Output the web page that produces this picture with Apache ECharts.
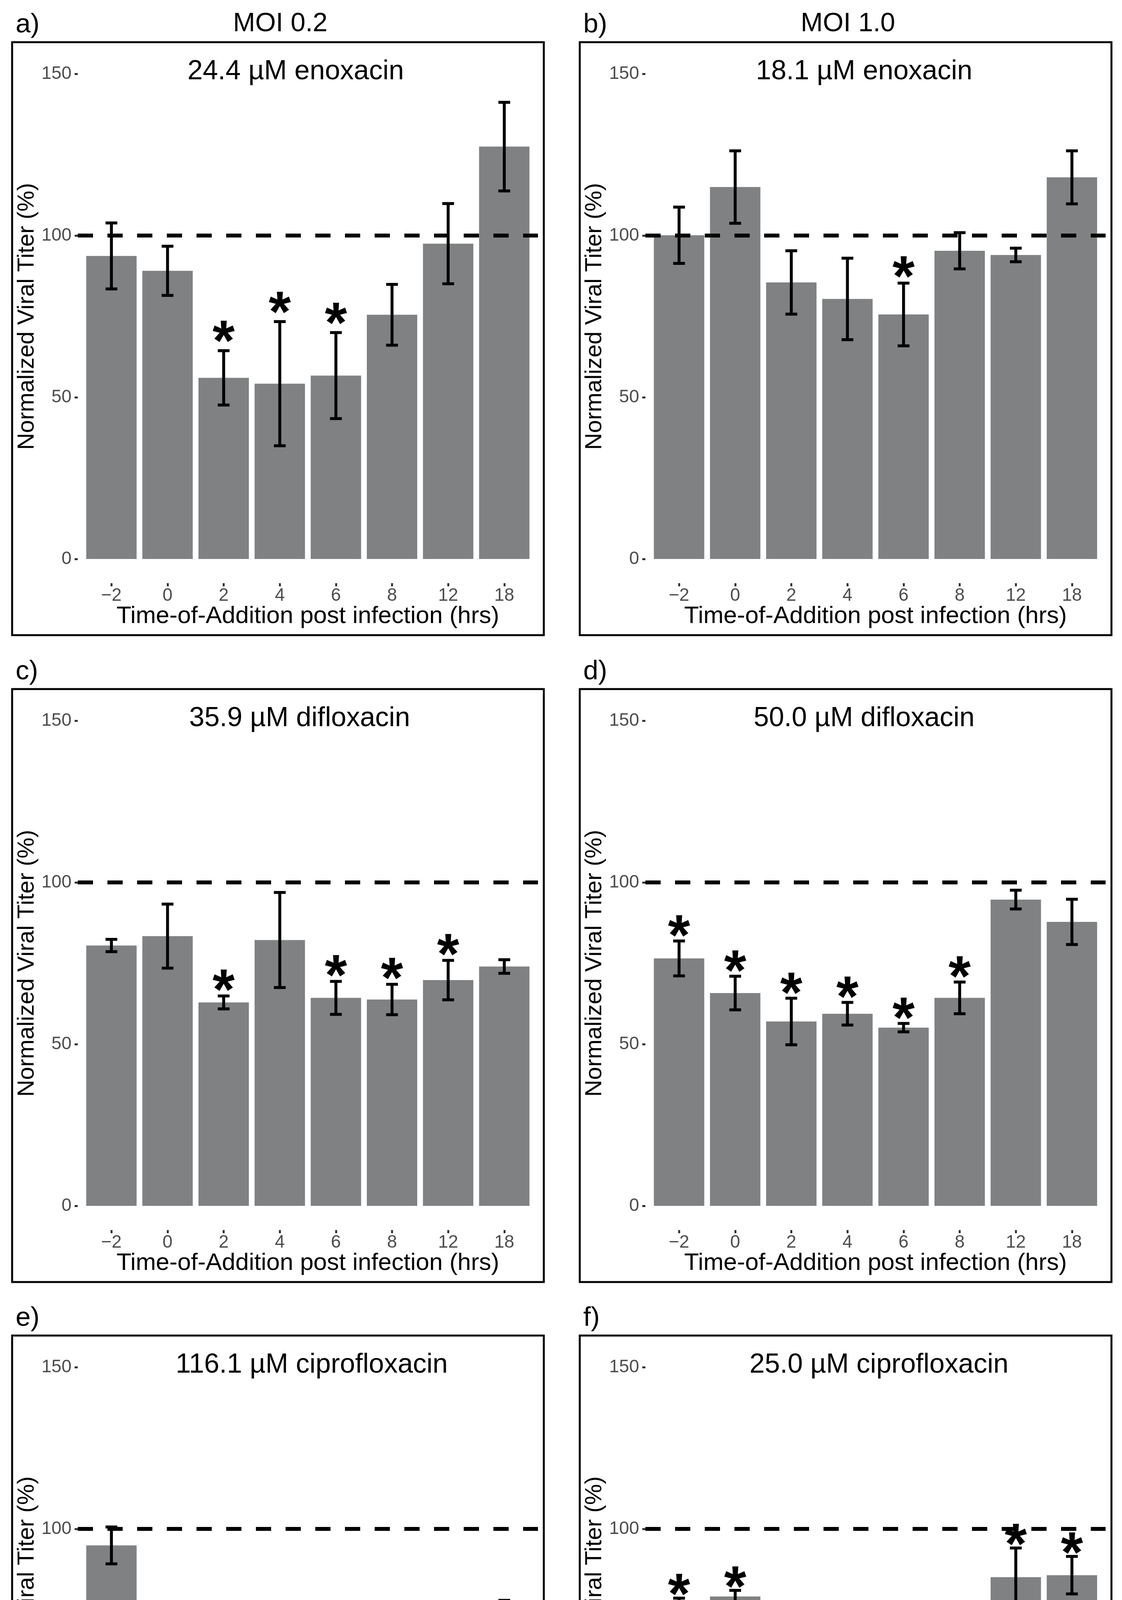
<!DOCTYPE html>
<html>
<head>
<meta charset="utf-8">
<script src="https://cdn.jsdelivr.net/npm/echarts@6/dist/echarts.min.js"></script>
<style>
html,body{margin:0;padding:0;background:#ffffff;}
#chart{width:2872px;height:4974px;}
</style>
</head>
<body>
<div id="chart"></div>
<script>
// ---------------- data ----------------
const categories = ['\u22122', '0', '2', '4', '6', '8', '12', '18'];
const yTicks = [0, 50, 100, 150];
const xTickIndex = [0, 1, 2, 3, 4, 5, 6, 7];
const referenceLevel = 100;
const moiLabels = ['MOI 0.2', 'MOI 1.0'];
const panelLetters = ['a)', 'b)', 'c)', 'd)', 'e)', 'f)'];
const panelTitles = ['24.4 \u00b5M enoxacin', '18.1 \u00b5M enoxacin', '35.9 \u00b5M difloxacin',
                     '50.0 \u00b5M difloxacin', '116.1 \u00b5M ciprofloxacin', '25.0 \u00b5M ciprofloxacin'];
const xTitle = 'Time-of-Addition post infection (hrs)';
const yTitle = 'Normalized Viral Titer (%)';

// a) 24.4 uM enoxacin, MOI 0.2
const meanA = [93.7, 89.1, 56.0, 54.2, 56.7, 75.5, 97.5, 127.5];
const errA  = [10.2, 7.6, 8.4, 19.2, 13.3, 9.4, 12.4, 13.7];
const sigA  = [0, 0, 1, 1, 1, 0, 0, 0];
// b) 18.1 uM enoxacin, MOI 1.0
const meanB = [100.1, 115.0, 85.5, 80.4, 75.6, 95.3, 94.0, 118.0];
const errB  = [8.7, 11.2, 9.8, 12.6, 9.7, 5.6, 2.1, 8.2];
const sigB  = [0, 0, 0, 0, 1, 0, 0, 0];
// c) 35.9 uM difloxacin, MOI 0.2
const meanC = [80.5, 83.4, 62.9, 82.2, 64.3, 63.8, 69.8, 74.0];
const errC  = [1.9, 9.9, 2.0, 14.7, 5.1, 4.7, 6.1, 2.1];
const sigC  = [0, 0, 1, 0, 1, 1, 1, 0];
// d) 50.0 uM difloxacin, MOI 1.0
const meanD = [76.5, 65.8, 57.0, 59.4, 55.1, 64.3, 94.7, 87.8];
const errD  = [5.4, 5.2, 7.2, 3.5, 1.3, 4.9, 2.9, 7.0];
const sigD  = [1, 1, 1, 1, 1, 1, 0, 0];
// e) 116.1 uM ciprofloxacin, MOI 0.2
const meanE = [94.9, 51.8, 2.2, 2.2, 2.5, 2.5, 31.7, 67.4];
const errE  = [5.7, 25.2, 0.5, 0.4, 0.3, 0.8, 10.4, 10.5];
const sigE  = [0, 0, 1, 1, 1, 1, 0, 0];
// f) 25.0 uM ciprofloxacin, MOI 1.0
const meanF = [73.0, 79.1, 59.7, 59.4, 64.5, 62.5, 85.1, 85.7];
const errF  = [5.6, 1.9, 2.4, 3.1, 2.4, 1.4, 9.0, 5.8];
const sigF  = [1, 1, 1, 1, 1, 1, 1, 1];

// ---------------- layout / style ----------------
const FONT = '"Liberation Sans", Arial, Helvetica, sans-serif';
const boxLeft = [31, 1484];
const boxWidth = 1361;
const rowTop = [108, 1764, 3419];
const boxHeight = 1518;
const plotOffsetLeft = 168, plotWidth = 1178, plotOffsetTop = 19, plotHeight = 1366;
const titleShift = [-31, -29, -21, -29, 10, 9];
const starGap = [5.8, 4.9, 4.7, 4.5, 3.6, 4.0];
const starFont = 146;
const barColor = '#7f8182';

const panels = [
  {mean: meanA, err: errA, sig: sigA},
  {mean: meanB, err: errB, sig: sigB},
  {mean: meanC, err: errC, sig: sigC},
  {mean: meanD, err: errD, sig: sigD},
  {mean: meanE, err: errE, sig: sigE},
  {mean: meanF, err: errF, sig: sigF}
];

const grids = [], xAxes = [], yAxes = [], series = [], graphics = [];

panels.forEach(function (p, k) {
  const col = k % 2, row = Math.floor(k / 2);
  const bl = boxLeft[col], bt = rowTop[row];
  const gl = bl + plotOffsetLeft, gt = bt + plotOffsetTop;
  grids.push({left: gl, top: gt, width: plotWidth, height: plotHeight, containLabel: false});

  xAxes.push({
    gridIndex: k, type: 'value', min: -0.6, max: 7.6,
    axisLine: {show: false, onZero: false}, splitLine: {show: false},
    axisTick: {show: true, length: 8, customValues: xTickIndex, lineStyle: {color: '#333333', width: 5}},
    axisLabel: {customValues: xTickIndex, margin: 9, fontSize: 46, color: '#4d4d4d', fontFamily: FONT,
                formatter: function (v) { return categories[Math.round(v)]; }},
    name: xTitle, nameLocation: 'middle', nameGap: 54, nameMoveOverlap: false,
    nameTextStyle: {fontSize: 62, color: '#000000', fontFamily: FONT}
  });
  yAxes.push({
    gridIndex: k, type: 'value', min: -7.5, max: 157.5,
    axisLine: {show: false, onZero: false}, splitLine: {show: false},
    axisTick: {show: true, length: 8, customValues: yTicks, lineStyle: {color: '#333333', width: 5}},
    axisLabel: {customValues: yTicks, margin: 16, fontSize: 46, color: '#4d4d4d', fontFamily: FONT},
    name: yTitle, nameLocation: 'middle', nameGap: 100, nameMoveOverlap: false,
    nameTextStyle: {fontSize: 60, color: '#000000', fontFamily: FONT}
  });

  const barData = p.mean.map(function (m, i) { return [i, m]; });
  series.push({
    type: 'bar', xAxisIndex: k, yAxisIndex: k, data: barData, barWidth: 129,
    itemStyle: {color: barColor}, silent: true, animation: false,
    markLine: {
      silent: true, symbol: 'none', animation: false, label: {show: false},
      lineStyle: {color: '#000000', width: 10, type: [39, 37]},
      data: [{yAxis: referenceLevel}]
    }
  });

  const errData = p.mean.map(function (m, i) { return [i, m - p.err[i], m + p.err[i]]; });
  series.push({
    type: 'custom', xAxisIndex: k, yAxisIndex: k, data: errData, z: 5, animation: false, silent: true,
    encode: {x: 0, y: [1, 2]},
    renderItem: function (params, api) {
      const i = api.value(0), lo = api.value(1), hi = api.value(2);
      const pHi = api.coord([i, hi]), pLo = api.coord([i, lo]);
      const half = api.size([0.105, 0])[0];
      const st = {stroke: '#000000', lineWidth: 7.5};
      return {type: 'group', children: [
        {type: 'line', shape: {x1: pHi[0], y1: pHi[1], x2: pLo[0], y2: pLo[1]}, style: st},
        {type: 'line', shape: {x1: pHi[0] - half, y1: pHi[1], x2: pHi[0] + half, y2: pHi[1]}, style: st},
        {type: 'line', shape: {x1: pLo[0] - half, y1: pLo[1], x2: pLo[0] + half, y2: pLo[1]}, style: st}
      ]};
    }
  });

  const starData = [];
  p.sig.forEach(function (s, i) { if (s) starData.push([i, p.mean[i] + p.err[i] + starGap[k]]); });
  series.push({
    type: 'custom', xAxisIndex: k, yAxisIndex: k, data: starData, z: 6, animation: false, silent: true,
    encode: {x: 0, y: 1},
    renderItem: function (params, api) {
      const c = api.coord([api.value(0), api.value(1)]);
      return {type: 'text', x: c[0], y: c[1] + 0.22 * starFont,
        style: {text: '*', fill: '#000000', font: 'bold ' + starFont + 'px ' + FONT,
                align: 'center', verticalAlign: 'middle', textAlign: 'center', textVerticalAlign: 'middle'}};
    }
  });

  // panel border
  graphics.push({type: 'rect', shape: {x: bl, y: bt, width: boxWidth, height: boxHeight},
                 style: {fill: 'none', stroke: '#000000', lineWidth: 5}, z: 10, silent: true});
  // panel letter
  graphics.push({type: 'text', x: bl + 9, y: bt - 44, silent: true,
                 style: {text: panelLetters[k], fill: '#000000', font: '69px ' + FONT,
                         align: 'left', verticalAlign: 'middle', textAlign: 'left', textVerticalAlign: 'middle'}});
  // panel title
  graphics.push({type: 'text', x: gl + plotWidth / 2 + titleShift[k], y: bt + 76, silent: true,
                 style: {text: panelTitles[k], fill: '#000000', font: '70px ' + FONT,
                         align: 'center', verticalAlign: 'middle', textAlign: 'center', textVerticalAlign: 'middle'}});
  // MOI column headers
  if (row === 0) {
    graphics.push({type: 'text', x: bl + boxWidth / 2 + 6, y: bt - 47, silent: true,
                   style: {text: moiLabels[col], fill: '#000000', font: '68px ' + FONT,
                           align: 'center', verticalAlign: 'middle', textAlign: 'center', textVerticalAlign: 'middle'}});
  }
});

const chart = echarts.init(document.getElementById('chart'), null, {renderer: 'canvas', width: 2872, height: 4974});
chart.setOption({
  backgroundColor: '#ffffff',
  animation: false,
  grid: grids,
  xAxis: xAxes,
  yAxis: yAxes,
  series: series,
  graphic: {elements: graphics}
});
</script>
</body>
</html>
